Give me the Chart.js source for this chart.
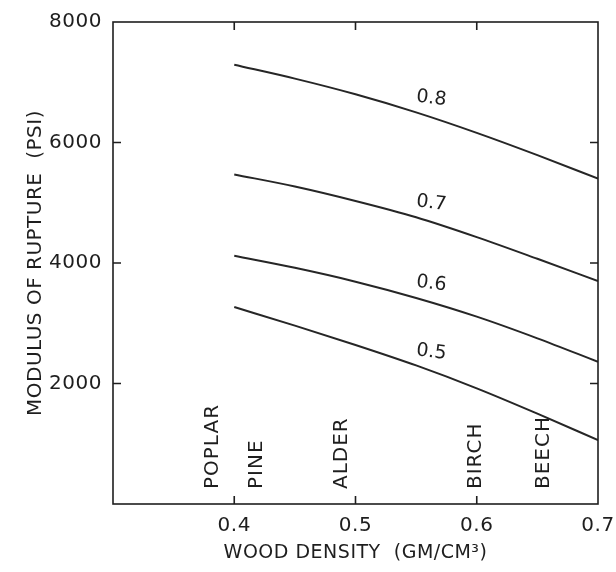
<!DOCTYPE html>
<html>
<head>
<meta charset="utf-8">
<script src="https://cdn.jsdelivr.net/npm/chart.js@4.4.1/dist/chart.umd.min.js"></script>
<style>
  html, body { margin: 0; padding: 0; background: #ffffff; }
  #wrap { width: 616px; height: 572px; }
</style>
</head>
<body>
<div id="wrap"><canvas id="c" width="616" height="572"></canvas></div>
<script>
// ---- data ----
const densities = [0.4, 0.45, 0.5, 0.55, 0.6, 0.65, 0.7];
const rupture08 = [7290, 7060, 6800, 6500, 6160, 5790, 5400];
const rupture07 = [5470, 5270, 5030, 4760, 4430, 4070, 3700];
const rupture06 = [4120, 3920, 3690, 3420, 3110, 2750, 2360];
const rupture05 = [3270, 2960, 2640, 2300, 1920, 1500, 1060];
const curveNames = ['0.8', '0.7', '0.6', '0.5'];
const species = ['POPLAR', 'PINE', 'ALDER', 'BIRCH', 'BEECH'];
const speciesDensity = [0.382, 0.4185, 0.489, 0.599, 0.6555];
const xTickValues = [0.4, 0.5, 0.6, 0.7];
const yTickValues = [2000, 4000, 6000, 8000];
const xTitle = 'WOOD DENSITY  (GM/CM\u00B3)';
const yTitle = 'MODULUS OF RUPTURE  (PSI)';

const INK = '#1e1e1e';
const FONT = 'DejaVu Sans';

const seriesValues = [rupture08, rupture07, rupture06, rupture05];
const datasets = seriesValues.map((vals, i) => ({
  label: curveNames[i],
  data: densities.map((d, j) => ({ x: d, y: vals[j] })),
  borderColor: '#262626',
  borderWidth: 2,
  pointRadius: 0,
  fill: false,
  cubicInterpolationMode: 'monotone'
}));

const decorPlugin = {
  id: 'decor',
  beforeDraw(chart) {
    chart.ctx.letterSpacing = '0.5px';
  },
  afterDraw(chart) {
    const ctx = chart.ctx;
    const a = chart.chartArea;
    const xs = chart.scales.x, ys = chart.scales.y;
    ctx.save();
    ctx.strokeStyle = INK;
    ctx.lineWidth = 1.6;
    ctx.strokeRect(a.left, a.top, a.right - a.left, a.bottom - a.top);
    // inward tick marks
    const tl = 8;
    ctx.beginPath();
    xTickValues.forEach(v => {
      const px = xs.getPixelForValue(v);
      if (px < a.right - 2) {
        ctx.moveTo(px, a.bottom); ctx.lineTo(px, a.bottom - tl);
        ctx.moveTo(px, a.top); ctx.lineTo(px, a.top + tl);
      }
    });
    yTickValues.forEach(v => {
      const py = ys.getPixelForValue(v);
      if (py > a.top + 2) {
        ctx.moveTo(a.left, py); ctx.lineTo(a.left + tl, py);
        ctx.moveTo(a.right, py); ctx.lineTo(a.right - tl, py);
      }
    });
    ctx.stroke();

    // species labels (vertical)
    ctx.fillStyle = INK;
    ctx.font = '20px "' + FONT + '"';
    ctx.letterSpacing = '1px';
    ctx.textBaseline = 'middle';
    ctx.textAlign = 'left';
    species.forEach((s, i) => {
      const px = xs.getPixelForValue(speciesDensity[i]);
      ctx.save();
      ctx.translate(px, a.bottom - 15);
      ctx.rotate(-Math.PI / 2);
      ctx.fillText(s, 0, 0);
      ctx.restore();
    });

    // curve labels
    ctx.font = '19px "' + FONT + '"';
    ctx.letterSpacing = '0px';
    ctx.textAlign = 'center';
    const lx = 0.5625;
    seriesValues.forEach((vals, i) => {
      let k = 0;
      while (k < densities.length - 2 && densities[k + 1] < lx) k++;
      const t = (lx - densities[k]) / (densities[k + 1] - densities[k]);
      const v = vals[k] + t * (vals[k + 1] - vals[k]);
      const px = xs.getPixelForValue(lx);
      const py = ys.getPixelForValue(v) - 19;
      ctx.save();
      ctx.translate(px, py);
      ctx.rotate(7 * Math.PI / 180);
      ctx.fillText(curveNames[i], 0, 0);
      ctx.restore();
    });
    ctx.restore();
  }
};

new Chart(document.getElementById('c'), {
  type: 'line',
  data: { datasets },
  options: {
    responsive: false,
    animation: false,
    devicePixelRatio: 1,
    layout: { padding: { top: 22, right: 18, left: 0, bottom: 0 } },
    plugins: { legend: { display: false }, tooltip: { enabled: false } },
    scales: {
      x: {
        type: 'linear',
        min: 0.3, max: 0.7,
        afterFit: s => { s.height = 68; },
        afterBuildTicks: s => { s.ticks = [0.3].concat(xTickValues).map(v => ({ value: v })); },
        grid: { display: false },
        border: { display: false },
        ticks: {
          padding: 2,
          color: INK,
          font: { family: FONT, size: 20 },
          callback: v => (v > 0.35 ? v.toFixed(1) : '')
        },
        title: {
          display: true, text: xTitle, color: INK,
          font: { family: FONT, size: 19 },
          padding: { top: 0, bottom: 8 }
        }
      },
      y: {
        min: 0, max: 8000,
        afterFit: s => { s.width = 113; },
        afterBuildTicks: s => { s.ticks = [0].concat(yTickValues).map(v => ({ value: v })); },
        grid: { display: false },
        border: { display: false },
        ticks: {
          padding: 3,
          color: INK,
          font: { family: FONT, size: 20 },
          callback: v => (v === 0 ? '' : String(v))
        },
        title: {
          display: true, text: yTitle, color: INK,
          font: { family: FONT, size: 20 },
          padding: { top: 24, bottom: 0 }
        }
      }
    }
  },
  plugins: [decorPlugin]
});
</script>
</body>
</html>
